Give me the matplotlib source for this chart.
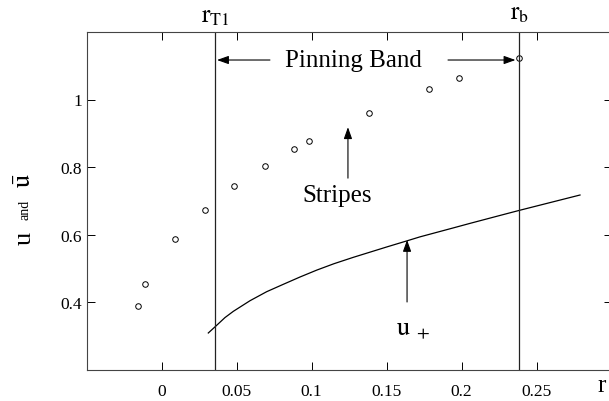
import matplotlib
matplotlib.use('Agg')
import matplotlib.pyplot as plt

plt.rcParams['font.family'] = ['Liberation Serif', 'DejaVu Serif']
plt.rcParams['mathtext.fontset'] = 'stix'

# stripe amplitude (open circles)
r_pts = [-0.016, -0.011, 0.009, 0.029, 0.048, 0.069, 0.088, 0.098, 0.138, 0.178, 0.198, 0.238]
u_pts = [0.388, 0.453, 0.587, 0.673, 0.744, 0.803, 0.853, 0.877, 0.960, 1.031, 1.064, 1.123]

# u_+ branch (solid curve)
r_curve = [0.0312, 0.0368, 0.0423, 0.0479, 0.0590, 0.0701, 0.0812, 0.0923, 0.1035,
           0.1150, 0.1279, 0.1501, 0.1635, 0.1723, 0.1945, 0.2057, 0.2257, 0.239, 0.279]
u_curve = [0.3082, 0.3310, 0.3538, 0.3724, 0.4038, 0.4305, 0.4524, 0.4740, 0.4945,
           0.5135, 0.5324, 0.5630, 0.5810, 0.5930, 0.6195, 0.6330, 0.6565, 0.672, 0.717]

r_T1 = 0.0357
r_b = 0.2385

x_ticks = [0, 0.05, 0.1, 0.15, 0.2, 0.25]
x_labels = ['0', '0.05', '0.1', '0.15', '0.2', '0.25']
y_ticks = [0.4, 0.6, 0.8, 1.0]
y_labels = ['0.4', '0.6', '0.8', '1']

W, H = 609, 402
fig = plt.figure(figsize=(W / 100, H / 100), dpi=100)
ax = fig.add_axes([86.5 / W, 1 - 370.5 / H, 525 / W, 337.5 / H])

ax.plot(r_curve, u_curve, color='black', lw=0.9)
ax.plot(r_pts, u_pts, 'o', mfc='none', mec='black', ms=4, mew=0.7)

ax.axvline(r_T1, color='#222222', lw=0.9)
ax.axvline(r_b, color='#222222', lw=0.9)

ax.set_xlim(-0.05, 0.3)
ax.set_ylim(0.2, 1.2)
ax.set_xticks(x_ticks)
ax.set_xticklabels(x_labels)
ax.set_yticks(y_ticks)
ax.set_yticklabels(y_labels)
ax.tick_params(direction='in', top=True, right=True, length=6, width=0.7,
               labelsize=12.5, colors='black', pad=10)
ax.tick_params(axis='y', pad=3)
for s in ['left', 'top', 'bottom']:
    ax.spines[s].set_linewidth(0.8)
    ax.spines[s].set_color('#444444')
ax.spines['right'].set_visible(False)

# annotations
arr = dict(arrowstyle='-|>,head_length=0.7,head_width=0.25', color='black', lw=0.8,
           shrinkA=0, shrinkB=0)
ax.text(0.128, 1.117, 'Pinning Band', fontsize=18, ha='center', va='center')
ax.annotate('', xy=(0.037, 1.117), xytext=(0.0723, 1.117), arrowprops=arr)
ax.annotate('', xy=(0.236, 1.117), xytext=(0.191, 1.117), arrowprops=arr)

ax.text(0.117, 0.717, 'Stripes', fontsize=18, ha='center', va='center')
ax.annotate('', xy=(0.1243, 0.918), xytext=(0.1243, 0.767), arrowprops=arr)

ax.text(0.168, 0.317, r'$\mathrm{u}_{\ +}$', fontsize=19, ha='center', va='center')
ax.annotate('', xy=(0.1637, 0.584), xytext=(0.1637, 0.40), arrowprops=arr)

ax.text(0.2937, 0.154, 'r', fontsize=18, ha='center', va='center', clip_on=False)

fig.text(215 / W, 1 - 17 / H, r'$\mathrm{r}_{\mathrm{T1}}$', fontsize=18,
         ha='center', va='center')
fig.text(519 / W, 1 - 14 / H, r'$\mathrm{r}_{\mathrm{b}}$', fontsize=18,
         ha='center', va='center')

# y label: u and u-bar
fig.text(25 / W, 1 - 238 / H, 'u', fontsize=19, rotation=90, ha='center', va='center')
fig.text(25 / W, 1 - 210 / H, 'and', fontsize=10, rotation=90, ha='center', va='center')
fig.text(25 / W, 1 - 181 / H, r'$\bar{\mathrm{u}}$', fontsize=19, rotation=90,
         ha='center', va='center')

fig.savefig('out.png', dpi=100)
